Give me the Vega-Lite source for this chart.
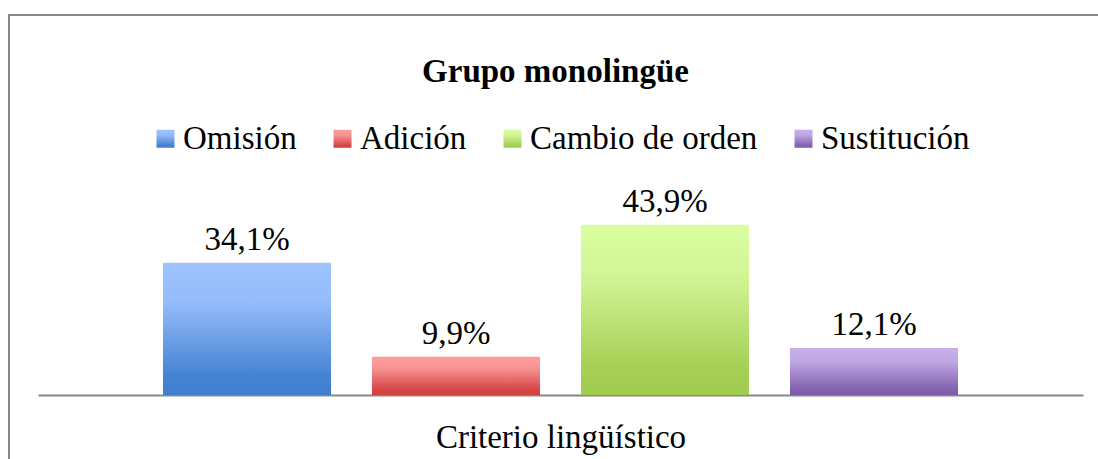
{
  "$schema": "https://vega.github.io/schema/vega-lite/v6.json",
  "autosize": "none",
  "padding": {"left": 9, "top": 15, "right": 0, "bottom": 0},
  "width": 1093,
  "height": 460,
  "background": "white",
  "title": {
    "text": "Grupo monolingüe",
    "font": "Liberation Serif",
    "fontSize": 33,
    "fontWeight": "bold",
    "color": "#000000",
    "anchor": "middle",
    "baseline": "alphabetic",
    "offset": -100
  },
  "data": {
    "values": [
      {"criterio": "Omisión", "valor": 34.1, "etiqueta": "34,1%"},
      {"criterio": "Adición", "valor": 9.9, "etiqueta": "9,9%"},
      {"criterio": "Cambio de orden", "valor": 43.9, "etiqueta": "43,9%"},
      {"criterio": "Sustitución", "valor": 12.1, "etiqueta": "12,1%"}
    ]
  },
  "encoding": {
    "x": {
      "field": "criterio",
      "type": "nominal",
      "sort": ["Omisión", "Adición", "Cambio de orden", "Sustitución"],
      "scale": {"range": [29, 1074], "paddingInner": 0.196, "paddingOuter": 0.598},
      "axis": {
        "orient": "bottom",
        "offset": -80,
        "title": "Criterio lingüístico",
        "titleFont": "Liberation Serif",
        "titleFontSize": 33,
        "titleFontWeight": "normal",
        "titleColor": "#000000",
        "titlePadding": 26,
        "labels": false,
        "ticks": false,
        "domain": true,
        "domainColor": "#878787",
        "domainWidth": 2
      }
    },
    "y": {
      "field": "valor",
      "type": "quantitative",
      "scale": {"domain": [-20.64, 98.04], "nice": false, "zero": false},
      "axis": null
    }
  },
  "layer": [
    {
      "mark": {"type": "bar"},
      "encoding": {
        "y2": {"datum": 0},
        "color": {
          "field": "criterio",
          "type": "nominal",
          "sort": ["Omisión", "Adición", "Cambio de orden", "Sustitución"],
          "scale": {
            "domain": ["Omisión", "Adición", "Cambio de orden", "Sustitución"],
            "range": [
              {"expr": "{gradient: 'linear', x1: 0, y1: 0, x2: 0, y2: 1, stops: [{offset: 0, color: '#9EC3FF'}, {offset: 0.3, color: '#95BBF9'}, {offset: 0.85, color: '#4584D3'}, {offset: 1, color: '#3F7FCE'}]}"},
              {"expr": "{gradient: 'linear', x1: 0, y1: 0, x2: 0, y2: 1, stops: [{offset: 0, color: '#FF9C9B'}, {offset: 0.3, color: '#F69492'}, {offset: 0.85, color: '#D7484A'}, {offset: 1, color: '#D0403F'}]}"},
              {"expr": "{gradient: 'linear', x1: 0, y1: 0, x2: 0, y2: 1, stops: [{offset: 0, color: '#DBFFA1'}, {offset: 0.3, color: '#D1F595'}, {offset: 0.85, color: '#A6CF55'}, {offset: 1, color: '#A0CB4E'}]}"},
              {"expr": "{gradient: 'linear', x1: 0, y1: 0, x2: 0, y2: 1, stops: [{offset: 0, color: '#C8B1EB'}, {offset: 0.3, color: '#BDA6E1'}, {offset: 0.85, color: '#8564B0'}, {offset: 1, color: '#7E5CAA'}]}"}
            ]
          },
          "legend": {
            "orient": "none",
            "legendX": 140,
            "legendY": 107,
            "direction": "horizontal",
            "title": null,
            "labelFont": "Liberation Serif",
            "labelFontSize": 33,
            "labelColor": "#000000",
            "labelLimit": 0,
            "labelOffset": 1,
            "columnPadding": 29,
            "symbolType": "square",
            "symbolSize": 324,
            "symbolStrokeWidth": 0,
            "symbolOpacity": 1
          }
        }
      }
    },
    {
      "mark": {"type": "text", "font": "Liberation Serif", "fontSize": 33, "color": "#000000", "baseline": "alphabetic", "dy": -13},
      "encoding": {
        "text": {"field": "etiqueta", "type": "nominal"}
      }
    }
  ],
  "config": {
    "view": {"stroke": "#878787", "strokeWidth": 2}
  }
}
